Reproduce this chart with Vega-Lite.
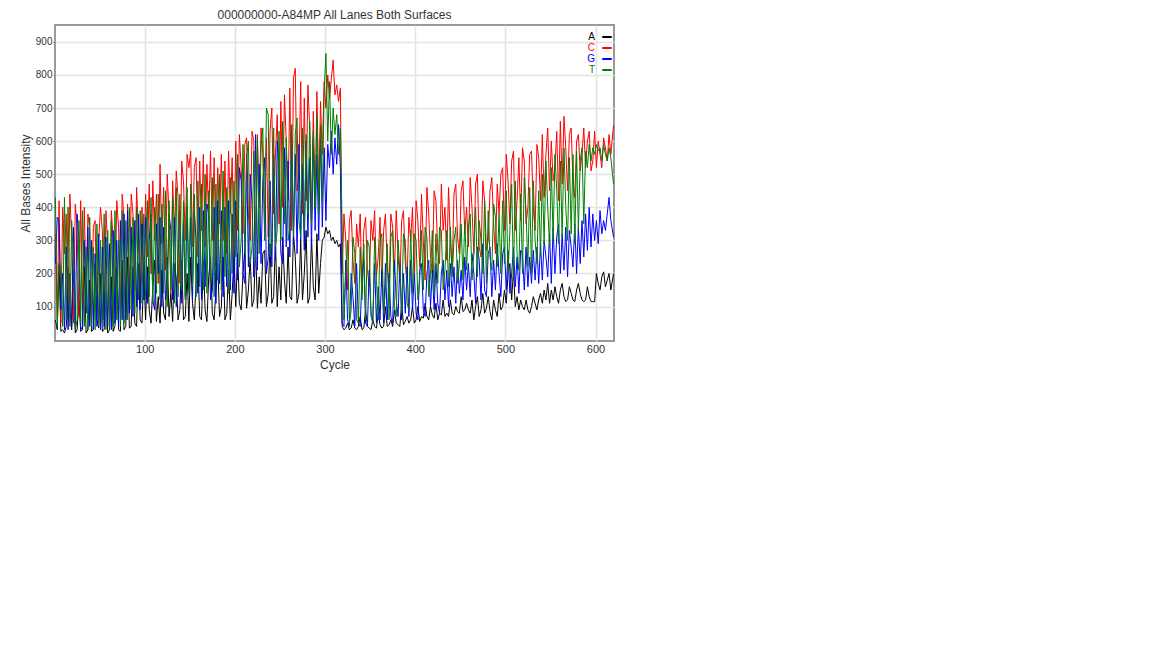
{
  "$schema": "https://vega.github.io/schema/vega-lite/v6.json",
  "width": 559,
  "height": 316,
  "padding": {"left": 19, "top": 9, "right": 5, "bottom": 5},
  "background": "white",
  "title": {"text": "000000000-A84MP All Lanes Both Surfaces", "fontSize": 12, "fontWeight": "normal", "color": "#333333", "offset": 3, "font": "Liberation Sans"},
  "config": {
    "font": "Liberation Sans",
    "view": {"stroke": "#999999", "strokeWidth": 2},
    "axis": {
      "gridColor": "#e3e3e3",
      "gridWidth": 1.5,
      "domain": false,
      "tickColor": "#777777",
      "labelColor": "#333333",
      "titleFontSize": 12,
      "titleFontWeight": "normal",
      "titleColor": "#333333"
    },
    "legend": {
      "orient": "none",
      "legendX": 546,
      "legendY": 6,
      "symbolType": "stroke",
      "symbolSize": 90,
      "symbolStrokeWidth": 2,
      "labelFontSize": 10,
      "rowPadding": -3,
      "padding": 0
    }
  },
  "data": {
    "values": [
      {"c":1,"A":60,"C":320,"G":230,"T":430},
      {"c":3,"A":30,"C":60,"G":370,"T":40},
      {"c":5,"A":230,"C":420,"G":360,"T":230},
      {"c":7,"A":25,"C":50,"G":90,"T":220},
      {"c":9,"A":30,"C":400,"G":200,"T":40},
      {"c":11,"A":20,"C":260,"G":30,"T":430},
      {"c":13,"A":40,"C":380,"G":280,"T":60},
      {"c":15,"A":220,"C":60,"G":30,"T":400},
      {"c":17,"A":90,"C":440,"G":200,"T":40},
      {"c":19,"A":30,"C":300,"G":40,"T":360},
      {"c":21,"A":210,"C":50,"G":340,"T":240},
      {"c":23,"A":20,"C":410,"G":40,"T":30},
      {"c":25,"A":30,"C":340,"G":380,"T":60},
      {"c":27,"A":120,"C":70,"G":310,"T":360},
      {"c":29,"A":25,"C":420,"G":30,"T":50},
      {"c":31,"A":30,"C":90,"G":40,"T":390},
      {"c":33,"A":220,"C":400,"G":300,"T":40},
      {"c":35,"A":20,"C":150,"G":80,"T":280},
      {"c":37,"A":30,"C":380,"G":340,"T":30},
      {"c":39,"A":180,"C":330,"G":40,"T":370},
      {"c":41,"A":25,"C":60,"G":300,"T":40},
      {"c":43,"A":30,"C":340,"G":30,"T":280},
      {"c":45,"A":230,"C":360,"G":260,"T":30},
      {"c":47,"A":60,"C":80,"G":40,"T":350},
      {"c":49,"A":35,"C":300,"G":320,"T":40},
      {"c":51,"A":200,"C":400,"G":30,"T":300},
      {"c":53,"A":25,"C":330,"G":280,"T":50},
      {"c":55,"A":30,"C":60,"G":40,"T":380},
      {"c":57,"A":140,"C":390,"G":310,"T":30},
      {"c":59,"A":20,"C":280,"G":40,"T":330},
      {"c":61,"A":30,"C":60,"G":290,"T":40},
      {"c":63,"A":190,"C":390,"G":30,"T":360},
      {"c":65,"A":25,"C":300,"G":330,"T":40},
      {"c":67,"A":40,"C":80,"G":50,"T":390},
      {"c":69,"A":220,"C":420,"G":300,"T":60},
      {"c":71,"A":30,"C":340,"G":40,"T":300},
      {"c":73,"A":25,"C":90,"G":360,"T":40},
      {"c":75,"A":240,"C":440,"G":60,"T":390},
      {"c":77,"A":30,"C":370,"G":380,"T":50},
      {"c":79,"A":40,"C":100,"G":60,"T":360},
      {"c":81,"A":250,"C":410,"G":390,"T":60},
      {"c":83,"A":35,"C":130,"G":80,"T":400},
      {"c":85,"A":40,"C":440,"G":340,"T":90},
      {"c":87,"A":220,"C":380,"G":70,"T":370},
      {"c":89,"A":50,"C":150,"G":360,"T":80},
      {"c":91,"A":40,"C":460,"G":100,"T":400},
      {"c":93,"A":230,"C":320,"G":380,"T":120},
      {"c":95,"A":60,"C":130,"G":90,"T":390},
      {"c":97,"A":50,"C":400,"G":350,"T":110},
      {"c":99,"A":200,"C":180,"G":120,"T":380},
      {"c":101,"A":60,"C":440,"G":370,"T":120},
      {"c":103,"A":220,"C":250,"G":110,"T":420},
      {"c":105,"A":90,"C":470,"G":300,"T":130},
      {"c":107,"A":50,"C":200,"G":380,"T":430},
      {"c":109,"A":160,"C":480,"G":120,"T":110},
      {"c":111,"A":240,"C":300,"G":90,"T":400},
      {"c":113,"A":55,"C":440,"G":350,"T":140},
      {"c":115,"A":130,"C":170,"G":200,"T":440},
      {"c":117,"A":50,"C":530,"G":370,"T":120},
      {"c":119,"A":210,"C":290,"G":100,"T":410},
      {"c":121,"A":80,"C":460,"G":340,"T":140},
      {"c":123,"A":60,"C":210,"G":120,"T":450},
      {"c":125,"A":250,"C":500,"G":160,"T":100},
      {"c":127,"A":70,"C":380,"G":380,"T":420},
      {"c":129,"A":140,"C":140,"G":330,"T":150},
      {"c":131,"A":55,"C":480,"G":120,"T":430},
      {"c":133,"A":230,"C":320,"G":370,"T":110},
      {"c":135,"A":180,"C":510,"G":100,"T":460},
      {"c":137,"A":60,"C":430,"G":250,"T":130},
      {"c":139,"A":90,"C":170,"G":390,"T":440},
      {"c":141,"A":240,"C":540,"G":110,"T":150},
      {"c":143,"A":60,"C":480,"G":360,"T":420},
      {"c":145,"A":70,"C":300,"G":130,"T":120},
      {"c":147,"A":200,"C":560,"G":400,"T":460},
      {"c":149,"A":55,"C":520,"G":150,"T":140},
      {"c":151,"A":250,"C":570,"G":370,"T":470},
      {"c":153,"A":110,"C":280,"G":120,"T":160},
      {"c":155,"A":60,"C":520,"G":390,"T":440},
      {"c":157,"A":170,"C":550,"G":300,"T":130},
      {"c":159,"A":230,"C":250,"G":140,"T":480},
      {"c":161,"A":70,"C":540,"G":400,"T":160},
      {"c":163,"A":60,"C":330,"G":120,"T":470},
      {"c":165,"A":240,"C":560,"G":390,"T":150},
      {"c":167,"A":90,"C":280,"G":160,"T":500},
      {"c":169,"A":55,"C":530,"G":410,"T":140},
      {"c":171,"A":190,"C":360,"G":380,"T":450},
      {"c":173,"A":250,"C":570,"G":120,"T":170},
      {"c":175,"A":80,"C":300,"G":150,"T":490},
      {"c":177,"A":60,"C":550,"G":400,"T":130},
      {"c":179,"A":150,"C":220,"G":110,"T":470},
      {"c":181,"A":230,"C":520,"G":420,"T":180},
      {"c":183,"A":70,"C":350,"G":170,"T":500},
      {"c":185,"A":100,"C":560,"G":390,"T":150},
      {"c":187,"A":250,"C":300,"G":130,"T":510},
      {"c":189,"A":60,"C":540,"G":400,"T":190},
      {"c":191,"A":80,"C":260,"G":160,"T":460},
      {"c":193,"A":210,"C":570,"G":420,"T":140},
      {"c":195,"A":60,"C":380,"G":150,"T":490},
      {"c":197,"A":140,"C":550,"G":380,"T":200},
      {"c":199,"A":250,"C":250,"G":140,"T":480},
      {"c":201,"A":100,"C":600,"G":420,"T":250},
      {"c":203,"A":260,"C":330,"G":180,"T":560},
      {"c":205,"A":110,"C":620,"G":520,"T":220},
      {"c":207,"A":90,"C":520,"G":480,"T":300},
      {"c":209,"A":200,"C":320,"G":200,"T":590},
      {"c":211,"A":270,"C":590,"G":170,"T":260},
      {"c":213,"A":95,"C":610,"G":560,"T":550},
      {"c":215,"A":150,"C":380,"G":220,"T":600},
      {"c":217,"A":250,"C":300,"G":500,"T":230},
      {"c":219,"A":100,"C":630,"G":420,"T":280},
      {"c":221,"A":120,"C":600,"G":190,"T":570},
      {"c":223,"A":280,"C":260,"G":620,"T":240},
      {"c":225,"A":95,"C":620,"G":210,"T":610},
      {"c":227,"A":190,"C":400,"G":530,"T":260},
      {"c":229,"A":110,"C":640,"G":230,"T":580},
      {"c":231,"A":260,"C":560,"G":480,"T":640},
      {"c":233,"A":270,"C":330,"G":550,"T":300},
      {"c":235,"A":100,"C":610,"G":200,"T":700},
      {"c":237,"A":140,"C":310,"G":250,"T":680},
      {"c":239,"A":290,"C":630,"G":480,"T":250},
      {"c":241,"A":110,"C":700,"G":220,"T":300},
      {"c":243,"A":130,"C":380,"G":560,"T":640},
      {"c":245,"A":300,"C":560,"G":240,"T":280},
      {"c":247,"A":100,"C":680,"G":600,"T":330},
      {"c":249,"A":220,"C":350,"G":520,"T":630},
      {"c":251,"A":120,"C":720,"G":260,"T":300},
      {"c":253,"A":310,"C":400,"G":230,"T":660},
      {"c":255,"A":180,"C":740,"G":580,"T":350},
      {"c":257,"A":110,"C":600,"G":280,"T":610},
      {"c":259,"A":280,"C":420,"G":540,"T":300},
      {"c":261,"A":130,"C":760,"G":250,"T":340},
      {"c":263,"A":120,"C":330,"G":610,"T":650},
      {"c":265,"A":320,"C":790,"G":290,"T":310},
      {"c":267,"A":250,"C":820,"G":560,"T":620},
      {"c":269,"A":110,"C":450,"G":260,"T":670},
      {"c":271,"A":140,"C":500,"G":590,"T":360},
      {"c":273,"A":300,"C":780,"G":300,"T":310},
      {"c":275,"A":120,"C":380,"G":530,"T":640},
      {"c":277,"A":200,"C":730,"G":270,"T":330},
      {"c":279,"A":330,"C":420,"G":600,"T":620},
      {"c":281,"A":110,"C":770,"G":310,"T":380},
      {"c":283,"A":130,"C":640,"G":550,"T":660},
      {"c":285,"A":310,"C":350,"G":280,"T":350},
      {"c":287,"A":160,"C":690,"G":610,"T":630},
      {"c":289,"A":120,"C":400,"G":330,"T":400},
      {"c":291,"A":320,"C":750,"G":560,"T":680},
      {"c":293,"A":140,"C":440,"G":300,"T":380},
      {"c":295,"A":230,"C":720,"G":620,"T":650},
      {"c":297,"A":300,"C":560,"G":340,"T":420},
      {"c":299,"A":310,"C":780,"G":580,"T":750},
      {"c":301,"A":340,"C":700,"G":360,"T":865},
      {"c":303,"A":320,"C":800,"G":590,"T":600},
      {"c":305,"A":330,"C":730,"G":520,"T":780},
      {"c":307,"A":300,"C":790,"G":630,"T":560},
      {"c":309,"A":310,"C":845,"G":500,"T":700},
      {"c":311,"A":290,"C":740,"G":610,"T":620},
      {"c":313,"A":300,"C":770,"G":530,"T":680},
      {"c":315,"A":280,"C":720,"G":650,"T":560},
      {"c":317,"A":290,"C":760,"G":520,"T":640},
      {"c":319,"A":40,"C":200,"G":50,"T":330},
      {"c":321,"A":30,"C":380,"G":40,"T":60},
      {"c":323,"A":35,"C":300,"G":240,"T":200},
      {"c":325,"A":50,"C":150,"G":60,"T":300},
      {"c":327,"A":30,"C":360,"G":40,"T":50},
      {"c":329,"A":35,"C":390,"G":200,"T":90},
      {"c":331,"A":60,"C":240,"G":130,"T":310},
      {"c":333,"A":35,"C":170,"G":40,"T":260},
      {"c":335,"A":30,"C":350,"G":230,"T":60},
      {"c":337,"A":40,"C":280,"G":50,"T":50},
      {"c":339,"A":70,"C":380,"G":40,"T":280},
      {"c":341,"A":30,"C":140,"G":190,"T":120},
      {"c":343,"A":35,"C":330,"G":240,"T":290},
      {"c":345,"A":90,"C":370,"G":50,"T":60},
      {"c":347,"A":40,"C":210,"G":40,"T":300},
      {"c":349,"A":35,"C":160,"G":210,"T":280},
      {"c":351,"A":30,"C":360,"G":80,"T":70},
      {"c":353,"A":60,"C":300,"G":60,"T":50},
      {"c":355,"A":40,"C":390,"G":230,"T":310},
      {"c":357,"A":35,"C":190,"G":50,"T":180},
      {"c":359,"A":80,"C":250,"G":160,"T":60},
      {"c":361,"A":45,"C":370,"G":60,"T":300},
      {"c":363,"A":35,"C":160,"G":210,"T":320},
      {"c":365,"A":40,"C":330,"G":50,"T":80},
      {"c":367,"A":100,"C":380,"G":230,"T":150},
      {"c":369,"A":40,"C":220,"G":60,"T":290},
      {"c":371,"A":45,"C":150,"G":200,"T":60},
      {"c":373,"A":60,"C":380,"G":70,"T":310},
      {"c":375,"A":40,"C":340,"G":50,"T":330},
      {"c":377,"A":90,"C":200,"G":240,"T":100},
      {"c":379,"A":50,"C":390,"G":120,"T":70},
      {"c":381,"A":45,"C":260,"G":70,"T":300},
      {"c":383,"A":40,"C":170,"G":230,"T":210},
      {"c":385,"A":110,"C":360,"G":60,"T":80},
      {"c":387,"A":45,"C":390,"G":200,"T":320},
      {"c":389,"A":55,"C":230,"G":80,"T":300},
      {"c":391,"A":70,"C":180,"G":220,"T":110},
      {"c":393,"A":50,"C":370,"G":70,"T":90},
      {"c":395,"A":60,"C":300,"G":240,"T":330},
      {"c":397,"A":100,"C":400,"G":90,"T":140},
      {"c":399,"A":50,"C":200,"G":200,"T":320},
      {"c":401,"A":60,"C":420,"G":80,"T":300},
      {"c":403,"A":100,"C":360,"G":60,"T":120},
      {"c":405,"A":55,"C":220,"G":210,"T":180},
      {"c":407,"A":70,"C":440,"G":230,"T":330},
      {"c":409,"A":65,"C":300,"G":90,"T":150},
      {"c":411,"A":110,"C":180,"G":70,"T":340},
      {"c":413,"A":70,"C":460,"G":200,"T":310},
      {"c":415,"A":60,"C":380,"G":240,"T":130},
      {"c":417,"A":100,"C":250,"G":100,"T":200},
      {"c":419,"A":75,"C":200,"G":210,"T":330},
      {"c":421,"A":65,"C":450,"G":90,"T":140},
      {"c":423,"A":110,"C":420,"G":230,"T":320},
      {"c":425,"A":60,"C":270,"G":110,"T":170},
      {"c":427,"A":80,"C":230,"G":80,"T":340},
      {"c":429,"A":75,"C":470,"G":200,"T":330},
      {"c":431,"A":120,"C":330,"G":240,"T":150},
      {"c":433,"A":70,"C":400,"G":120,"T":210},
      {"c":435,"A":80,"C":240,"G":210,"T":330},
      {"c":437,"A":70,"C":460,"G":100,"T":160},
      {"c":439,"A":120,"C":300,"G":230,"T":340},
      {"c":441,"A":80,"C":200,"G":130,"T":190},
      {"c":443,"A":75,"C":440,"G":220,"T":300},
      {"c":445,"A":100,"C":470,"G":110,"T":340},
      {"c":447,"A":85,"C":310,"G":240,"T":170},
      {"c":449,"A":80,"C":260,"G":140,"T":230},
      {"c":451,"A":130,"C":450,"G":210,"T":350},
      {"c":453,"A":85,"C":480,"G":120,"T":180},
      {"c":455,"A":90,"C":320,"G":250,"T":360},
      {"c":457,"A":110,"C":400,"G":150,"T":210},
      {"c":459,"A":90,"C":280,"G":230,"T":340},
      {"c":461,"A":80,"C":490,"G":130,"T":380},
      {"c":463,"A":120,"C":400,"G":260,"T":180},
      {"c":465,"A":60,"C":260,"G":200,"T":260},
      {"c":467,"A":100,"C":470,"G":110,"T":400},
      {"c":469,"A":130,"C":500,"G":280,"T":190},
      {"c":471,"A":70,"C":280,"G":240,"T":360},
      {"c":473,"A":90,"C":250,"G":120,"T":300},
      {"c":475,"A":140,"C":480,"G":290,"T":200},
      {"c":477,"A":80,"C":420,"G":150,"T":420},
      {"c":479,"A":95,"C":270,"G":130,"T":170},
      {"c":481,"A":130,"C":300,"G":260,"T":390},
      {"c":483,"A":85,"C":450,"G":280,"T":250},
      {"c":485,"A":60,"C":490,"G":130,"T":210},
      {"c":487,"A":120,"C":350,"G":240,"T":410},
      {"c":489,"A":90,"C":260,"G":150,"T":370},
      {"c":491,"A":70,"C":470,"G":290,"T":220},
      {"c":493,"A":140,"C":380,"G":200,"T":380},
      {"c":495,"A":90,"C":500,"G":130,"T":200},
      {"c":497,"A":100,"C":520,"G":260,"T":420},
      {"c":499,"A":150,"C":330,"G":280,"T":230},
      {"c":501,"A":110,"C":560,"G":150,"T":450},
      {"c":503,"A":200,"C":480,"G":270,"T":200},
      {"c":505,"A":230,"C":350,"G":140,"T":330},
      {"c":507,"A":120,"C":540,"G":200,"T":470},
      {"c":509,"A":210,"C":570,"G":280,"T":190},
      {"c":511,"A":100,"C":330,"G":160,"T":480},
      {"c":513,"A":130,"C":420,"G":250,"T":260},
      {"c":515,"A":90,"C":550,"G":140,"T":210},
      {"c":517,"A":120,"C":360,"G":270,"T":440},
      {"c":519,"A":100,"C":580,"G":260,"T":200},
      {"c":521,"A":90,"C":540,"G":150,"T":490},
      {"c":523,"A":120,"C":350,"G":280,"T":380},
      {"c":525,"A":90,"C":400,"G":160,"T":220},
      {"c":527,"A":80,"C":560,"G":250,"T":460},
      {"c":529,"A":100,"C":570,"G":170,"T":200},
      {"c":531,"A":130,"C":400,"G":270,"T":480},
      {"c":533,"A":110,"C":330,"G":180,"T":300},
      {"c":535,"A":90,"C":590,"G":280,"T":230},
      {"c":537,"A":120,"C":550,"G":170,"T":450},
      {"c":539,"A":140,"C":420,"G":290,"T":250},
      {"c":541,"A":110,"C":620,"G":180,"T":500},
      {"c":543,"A":150,"C":430,"G":300,"T":290},
      {"c":545,"A":120,"C":560,"G":250,"T":540},
      {"c":547,"A":170,"C":640,"G":190,"T":400},
      {"c":549,"A":110,"C":450,"G":320,"T":280},
      {"c":551,"A":150,"C":600,"G":170,"T":520},
      {"c":553,"A":120,"C":480,"G":340,"T":300},
      {"c":555,"A":160,"C":520,"G":200,"T":560},
      {"c":557,"A":130,"C":630,"G":310,"T":450},
      {"c":559,"A":110,"C":420,"G":350,"T":290},
      {"c":561,"A":150,"C":660,"G":200,"T":540},
      {"c":563,"A":170,"C":470,"G":320,"T":310},
      {"c":565,"A":130,"C":675,"G":210,"T":580},
      {"c":567,"A":115,"C":580,"G":340,"T":400},
      {"c":569,"A":120,"C":450,"G":190,"T":300},
      {"c":571,"A":160,"C":620,"G":330,"T":550},
      {"c":573,"A":140,"C":640,"G":280,"T":320},
      {"c":575,"A":120,"C":480,"G":220,"T":560},
      {"c":577,"A":115,"C":430,"G":350,"T":290},
      {"c":579,"A":150,"C":600,"G":200,"T":570},
      {"c":581,"A":170,"C":620,"G":340,"T":330},
      {"c":583,"A":140,"C":510,"G":230,"T":540},
      {"c":585,"A":120,"C":560,"G":360,"T":580},
      {"c":587,"A":115,"C":640,"G":250,"T":350},
      {"c":589,"A":120,"C":520,"G":380,"T":570},
      {"c":591,"A":160,"C":600,"G":270,"T":520},
      {"c":593,"A":130,"C":630,"G":400,"T":590},
      {"c":595,"A":115,"C":510,"G":280,"T":540},
      {"c":597,"A":115,"C":540,"G":380,"T":580},
      {"c":599,"A":115,"C":630,"G":300,"T":560},
      {"c":601,"A":200,"C":520,"G":360,"T":590},
      {"c":603,"A":170,"C":600,"G":290,"T":570},
      {"c":605,"A":150,"C":560,"G":390,"T":580},
      {"c":607,"A":190,"C":520,"G":320,"T":540},
      {"c":609,"A":205,"C":610,"G":360,"T":590},
      {"c":611,"A":160,"C":580,"G":330,"T":560},
      {"c":613,"A":180,"C":540,"G":380,"T":540},
      {"c":615,"A":200,"C":620,"G":430,"T":580},
      {"c":617,"A":150,"C":560,"G":360,"T":550},
      {"c":620,"A":200,"C":648,"G":310,"T":470}
    ]
  },
  "transform": [
    {"fold": ["A", "C", "G", "T"], "as": ["base", "value"]}
  ],
  "mark": {"type": "line", "strokeWidth": 1, "clip": true},
  "encoding": {
    "x": {
      "field": "c",
      "type": "quantitative",
      "title": "Cycle",
      "scale": {"domain": [0.5, 620.5], "nice": false, "zero": false},
      "axis": {"values": [100, 200, 300, 400, 500, 600], "ticks": false, "labelPadding": 2, "labelFontSize": 11, "titlePadding": 5}
    },
    "y": {
      "field": "value",
      "type": "quantitative",
      "title": "All Bases Intensity",
      "scale": {"domain": [-4, 951], "nice": false, "zero": false},
      "axis": {"values": [100, 200, 300, 400, 500, 600, 700, 800, 900], "tickSize": 2, "labelPadding": 1, "labelFontSize": 10, "titlePadding": 3}
    },
    "color": {
      "field": "base",
      "type": "nominal",
      "scale": {"domain": ["A", "C", "G", "T"], "range": ["#000000", "#ff0000", "#0000ff", "#008000"]},
      "legend": {
        "title": null,
        "labelAlign": "right",
        "labelOffset": -18,
        "encode": {"labels": {"update": {"fill": {"scale": "color", "field": "value"}}}}
      }
    }
  }
}
